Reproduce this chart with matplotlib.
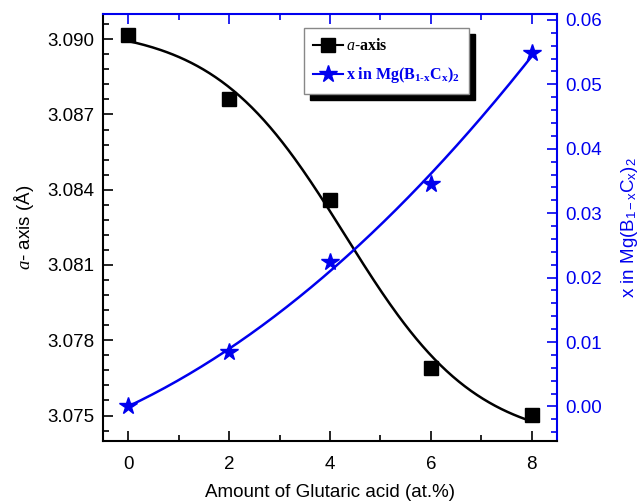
import numpy as np
import matplotlib
matplotlib.use('Agg')
import matplotlib.pyplot as plt
from matplotlib.ticker import MultipleLocator, FormatStrFormatter

plt.rcParams['font.family'] = 'Liberation Sans'
plt.rcParams['mathtext.fontset'] = 'custom'
plt.rcParams['mathtext.rm'] = 'Liberation Sans'
plt.rcParams['mathtext.it'] = 'Liberation Serif:italic'
plt.rcParams['mathtext.bf'] = 'Liberation Serif:bold'

# data
glutaric = [0, 2, 4, 6, 8]
a_axis = [3.09017, 3.08761, 3.08361, 3.07688, 3.07504]
x_carbon = [0.0, 0.0085, 0.0225, 0.0346, 0.0549]

blue = '#0000ee'


def boltzmann_fit(x, y, xs, min_width=1.3):
    # sigmoid fit: linear in the two plateaus, grid search over centre and width
    x = np.asarray(x, float)
    y = np.asarray(y, float)
    best = None
    for x0 in np.linspace(1, 8, 141):
        for dx in np.linspace(min_width, 5, 75):
            s = 1 / (1 + np.exp((x - x0) / dx))
            A = np.column_stack([s, 1 - s])
            coef, *_ = np.linalg.lstsq(A, y, rcond=None)
            err = np.sum((A @ coef - y) ** 2)
            if best is None or err < best[0]:
                best = (err, x0, dx, coef)
    _, x0, dx, coef = best
    s = 1 / (1 + np.exp((xs - x0) / dx))
    return coef[0] * s + coef[1] * (1 - s)


fig = plt.figure(figsize=(6.44, 5.03), dpi=100)
ax = fig.add_axes([0.160, 0.124, 0.705, 0.848])
ax2 = ax.twinx()

xs = np.linspace(0, 8, 200)
fit_a = boltzmann_fit(glutaric, a_axis, xs)
fit_x = np.polyval(np.polyfit(glutaric, x_carbon, 2), xs)

ax.plot(xs, fit_a, color='black', lw=1.8)
ax2.plot(xs, fit_x, color=blue, lw=1.8)
ax.plot(glutaric, a_axis, 's', color='black', ms=9.5, ls='none')
ax2.plot(glutaric, x_carbon, '*', color=blue, ms=13, ls='none')

ax.set_xlim(-0.5, 8.5)
ax.set_ylim(3.0740, 3.0910)
ax2.set_ylim(-0.0053, 0.0609)

ax.xaxis.set_major_locator(MultipleLocator(2))
ax.xaxis.set_minor_locator(MultipleLocator(1))
ax.yaxis.set_major_locator(MultipleLocator(0.003))
ax.yaxis.set_minor_locator(MultipleLocator(0.0006))
ax.yaxis.set_major_formatter(FormatStrFormatter('%.3f'))
ax2.yaxis.set_major_locator(MultipleLocator(0.01))
ax2.yaxis.set_minor_locator(MultipleLocator(0.002))
ax2.yaxis.set_major_formatter(FormatStrFormatter('%.2f'))

ax.tick_params(axis='both', which='both', direction='in', labelsize=13.5, width=1.2)
ax.tick_params(which='major', length=7)
ax.tick_params(which='minor', length=4)
ax.tick_params(axis='x', top=False, pad=11)
ax.tick_params(axis='y', pad=6)

ax2.xaxis.set_visible(True)
ax2.tick_params(axis='x', which='both', bottom=False, labelbottom=False, top=True,
                labeltop=False, direction='in', color=blue, width=1.2)
ax2.tick_params(axis='x', which='major', length=7)
ax2.tick_params(axis='x', which='minor', length=4)
ax2.tick_params(axis='y', which='both', direction='in', color=blue, labelcolor=blue,
                labelsize=13.5, width=1.2, pad=6)
ax2.tick_params(axis='y', which='major', length=7)
ax2.tick_params(axis='y', which='minor', length=4)

for s in ['left', 'bottom']:
    ax2.spines[s].set_linewidth(1.5)
    ax2.spines[s].set_color('black')
for s in ['top', 'right']:
    ax2.spines[s].set_linewidth(1.5)
    ax2.spines[s].set_color(blue)
for s in ax.spines.values():
    s.set_visible(False)

ax.set_xlabel('Amount of Glutaric acid (at.%)', fontsize=13.5, labelpad=8)
ax.set_ylabel(r'$\mathit{a}$- axis (Å)', fontsize=13.5, labelpad=8)
ax2.set_ylabel(r'x in Mg(B$_{\mathrm{1-x}}$C$_{\mathrm{x}}$)$_{\mathrm{2}}$', fontsize=13.5,
               color=blue, rotation=90, labelpad=12)

leg_a, = ax.plot([], [], 's-', color='black', ms=9.5, lw=1.5)
leg_x, = ax.plot([], [], '*-', color=blue, ms=13, lw=1.5)
leg = ax.legend([leg_a, leg_x],
                [r'$\mathit{a}$-$\mathbf{axis}$',
                 r'$\mathbf{x\ in\ Mg(B}_{\mathbf{1\text{-}x}}\mathbf{C}_{\mathbf{x}}\mathbf{)}_{\mathbf{2}}$'],
                loc='upper left', bbox_to_anchor=(0.425, 0.985), handlelength=1.9,
                handletextpad=0.2, borderpad=0.55, labelspacing=0.75, fontsize=11.5,
                fancybox=False, edgecolor='#888888', framealpha=1,
                shadow={'color': 'black', 'alpha': 1, 'ox': 4, 'oy': -4})
leg.get_texts()[1].set_color(blue)
leg.get_frame().set_linewidth(1.0)

fig.savefig('out.png', dpi=100)
